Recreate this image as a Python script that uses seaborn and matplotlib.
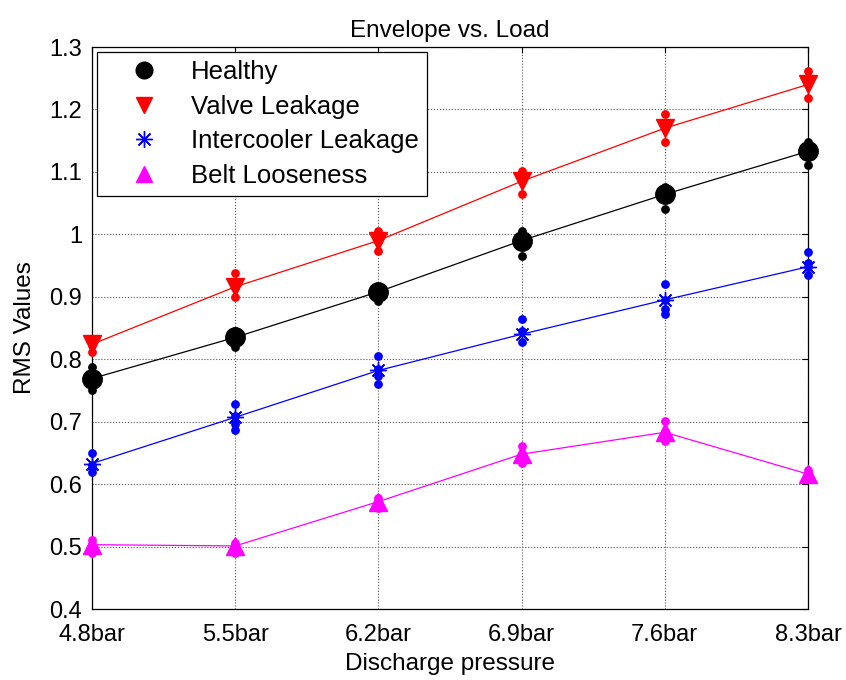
import numpy as np
import pandas as pd
import seaborn as sns
import matplotlib
matplotlib.use("Agg")
import matplotlib.pyplot as plt
from matplotlib.lines import Line2D
from matplotlib.ticker import FormatStrFormatter

# Discharge pressure levels
pressures = ["4.8bar", "5.5bar", "6.2bar", "6.9bar", "7.6bar", "8.3bar"]

# Mean RMS envelope value per condition
healthy_mean = [0.769, 0.835, 0.908, 0.990, 1.064, 1.133]
valve_mean = [0.824, 0.916, 0.990, 1.085, 1.170, 1.240]
intercooler_mean = [0.633, 0.707, 0.782, 0.840, 0.895, 0.948]
belt_mean = [0.503, 0.501, 0.572, 0.648, 0.683, 0.616]

# Individual measurements at each pressure level
healthy_samples = [
    [0.788, 0.770, 0.750],
    [0.845, 0.835, 0.820],
    [0.915, 0.908, 0.893],
    [1.006, 0.990, 0.966],
    [1.076, 1.064, 1.040],
    [1.148, 1.133, 1.111],
]
valve_samples = [
    [0.830, 0.822, 0.812],
    [0.938, 0.915, 0.900],
    [1.005, 0.990, 0.974],
    [1.101, 1.087, 1.064],
    [1.192, 1.170, 1.148],
    [1.261, 1.240, 1.219],
]
intercooler_samples = [
    [0.650, 0.630, 0.626, 0.619],
    [0.729, 0.709, 0.696, 0.686],
    [0.805, 0.785, 0.773, 0.760],
    [0.864, 0.845, 0.828],
    [0.921, 0.895, 0.881, 0.872],
    [0.971, 0.954, 0.947, 0.935],
]
belt_samples = [
    [0.510, 0.503, 0.490],
    [0.505, 0.500, 0.490],
    [0.578, 0.572, 0.562],
    [0.661, 0.648, 0.634],
    [0.701, 0.683, 0.669],
    [0.622, 0.616, 0.612],
]

series = [
    ("Healthy", healthy_mean, healthy_samples, "black", "o", 14),
    ("Valve Leakage", valve_mean, valve_samples, "#ff0000", "v", 13.5),
    ("Intercooler Leakage", intercooler_mean, intercooler_samples, "#0000ff", (8, 2, 0), 12),
    ("Belt Looseness", belt_mean, belt_samples, "#ff00ff", "^", 13.5),
]

sns.set_style("white")
plt.rcParams["font.family"] = ["Liberation Sans", "DejaVu Sans"]
plt.rcParams["text.color"] = "black"
plt.rcParams["axes.labelcolor"] = "black"

fig = plt.figure(figsize=(8.46, 6.80), dpi=100)
ax = fig.add_axes([92 / 846, 1 - 609 / 680, (808 - 92) / 846, (609 - 47) / 680])

pos = np.arange(len(pressures))

for name, means, samples, color, marker, ms in series:
    df = pd.DataFrame({"pos": pos, "value": means})
    sns.lineplot(data=df, x="pos", y="value", ax=ax, color=color,
                 linewidth=0.9, clip_on=False, zorder=3, marker=marker,
                 markersize=ms, markerfacecolor=color, markeredgecolor=color,
                 markeredgewidth=1.0)
    sx = [p for p, vals in zip(pos, samples) for _ in vals]
    sy = [v for vals in samples for v in vals]
    sns.scatterplot(x=sx, y=sy, ax=ax, color=color, s=40, linewidth=0,
                    clip_on=False, zorder=4)

ax.set_xlim(0, 5)
ax.set_ylim(0.4, 1.3)
ax.set_xticks(pos)
ax.set_xticklabels(pressures)
ax.set_yticks(np.round(np.arange(0.4, 1.31, 0.1), 1))
ax.yaxis.set_major_formatter(FormatStrFormatter("%g"))
ax.tick_params(direction="in", length=4, width=0.8, labelsize=17,
               top=True, right=True, colors="black", labelcolor="black")
ax.tick_params(axis="x", pad=11)
ax.tick_params(axis="y", pad=7)
ax.grid(True, linestyle=":", color="#555555", linewidth=0.8)
for sp in ax.spines.values():
    sp.set_color("black")
    sp.set_linewidth(0.9)
    sp.set_visible(True)

ax.set_title("Envelope vs. Load", fontsize=17.5, pad=7, color="black")
ax.set_xlabel("Discharge pressure", fontsize=17.5, labelpad=5, color="black")
ax.set_ylabel("RMS Values", fontsize=17.5, labelpad=10, color="black")

handles = [Line2D([], [], linestyle="none", marker=m, markersize=12,
                  markerfacecolor=c, markeredgecolor=c, markeredgewidth=1.0)
           for name, _, _, c, m, ms in series]
labels = [s[0] for s in series]
leg = ax.legend(handles, labels, loc="upper left", bbox_to_anchor=(0.007, 0.991),
                fontsize=18.5, frameon=True, fancybox=False, borderpad=0.3,
                handletextpad=0.3, labelspacing=0.42, handlelength=3.06,
                borderaxespad=0, labelcolor="black")
leg.get_frame().set_edgecolor("black")
leg.get_frame().set_linewidth(0.9)
leg.get_frame().set_alpha(1)
leg.set_zorder(10)

fig.savefig("out.png", dpi=100, facecolor="white")
